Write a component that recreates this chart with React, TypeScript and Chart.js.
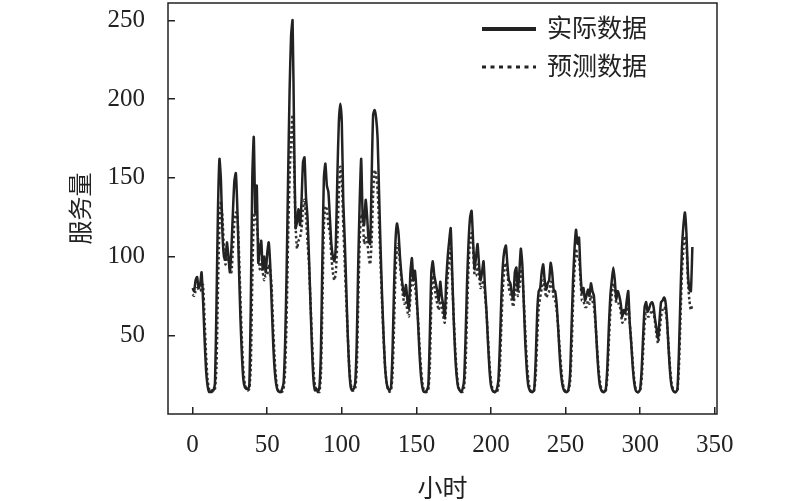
import { useEffect, useRef } from 'react';
import { Chart, registerables } from 'chart.js';

Chart.register(...registerables);

const seriesNames = ['实际数据', '预测数据'];
const xTitle = '小时';
const yTitle = '服务量';
const xTicks = [0, 50, 100, 150, 200, 250, 300, 350];
const yTicks = [50, 100, 150, 200, 250];

// hourly values
const actual = [
  80, 78, 85, 87, 80, 82, 90, 72, 48, 28, 18, 14,
  14, 15, 15, 20, 70, 130, 162, 148, 115, 100, 98, 109,
  100, 90, 105, 128, 148, 153, 130, 95, 62, 38, 22, 17,
  16, 16, 18, 70, 150, 176, 128, 145, 96, 104, 110, 92,
  100, 90, 102, 109, 95, 70, 45, 28, 19, 15, 14, 14,
  16, 20, 45, 90, 150, 205, 240, 250, 180, 118, 122, 130,
  120, 135, 160, 163, 138, 125, 100, 70, 42, 22, 15, 16,
  14, 17, 40, 100, 150, 159, 145, 141, 125, 108, 100, 97,
  108, 150, 185, 197, 185, 135, 110, 80, 50, 28, 17, 15,
  16, 20, 45, 95, 135, 162, 125, 120, 136, 125, 110, 108,
  150, 190, 193, 188, 175, 140, 105, 75, 50, 30, 20, 16,
  15, 17, 40, 80, 110, 121, 115, 100, 88, 80, 75, 82,
  72, 67, 90, 99, 85, 91, 79, 60, 40, 25, 17, 14,
  14, 15, 18, 50, 90, 97, 88, 83, 78, 72, 84, 75,
  69, 61, 85, 100, 110, 118, 90, 60, 38, 24, 17, 15,
  14, 16, 22, 50, 85, 110, 125, 129, 110, 92, 100, 108,
  95, 85, 90, 97, 80, 65, 45, 28, 18, 15, 14, 14,
  16, 22, 45, 75, 95, 104, 107, 95, 85, 83, 76, 73,
  90, 93, 79, 90, 105, 95, 70, 45, 28, 18, 15, 14,
  14, 16, 35, 65, 78, 80, 90, 95, 85, 79, 83, 85,
  96, 90, 79, 78, 70, 55, 38, 25, 18, 15, 14, 14,
  16, 25, 55, 85, 105, 117, 108, 112, 90, 77, 80, 72,
  75, 79, 75, 83, 78, 75, 60, 42, 27, 18, 15, 14,
  14, 16, 30, 55, 75, 85, 93, 85, 73, 78, 75, 70,
  62, 66, 64, 72, 78, 58, 45, 30, 20, 15, 14, 14,
  16, 28, 50, 68, 71, 65, 67, 70, 71, 68, 60, 54,
  48, 60, 71, 72, 74, 71, 60, 42, 27, 18, 15, 14,
  14, 16, 40, 75, 105, 120, 128, 115, 90, 79, 78, 106,
];

const predicted = [
  76, 75, 78, 80, 79, 78, 80, 82, 60, 38, 22, 16,
  14, 14, 15, 16, 30, 80, 120, 135, 125, 105, 95, 98,
  100, 92, 90, 105, 122, 128, 126, 105, 75, 48, 28, 19,
  16, 15, 16, 30, 85, 125, 128, 120, 110, 92, 95, 90,
  85, 88, 88, 95, 92, 80, 55, 35, 22, 16, 14, 14,
  14, 16, 28, 60, 110, 150, 175, 190, 160, 120, 105, 110,
  112, 118, 130, 136, 125, 110, 95, 72, 48, 28, 18, 15,
  14, 14, 25, 70, 120, 132, 130, 120, 115, 100, 90, 85,
  90, 110, 140, 157, 150, 120, 95, 72, 50, 30, 19, 15,
  15, 16, 28, 70, 110, 127, 125, 108, 112, 110, 100, 95,
  110, 140, 155, 152, 142, 120, 95, 70, 48, 30, 20, 16,
  14, 15, 25, 55, 90, 105, 108, 95, 85, 75, 70, 72,
  65, 62, 75, 88, 82, 82, 72, 62, 45, 30, 20, 15,
  14, 14, 15, 30, 70, 88, 82, 75, 70, 66, 72, 68,
  62, 58, 70, 88, 98, 105, 85, 62, 42, 27, 18, 15,
  14, 14, 17, 32, 65, 95, 110, 115, 105, 88, 88, 95,
  88, 80, 82, 85, 76, 64, 48, 32, 21, 16, 14, 14,
  14, 17, 30, 58, 80, 92, 96, 90, 80, 76, 72, 68,
  78, 85, 75, 80, 92, 88, 72, 52, 34, 22, 16, 14,
  14, 15, 25, 48, 68, 74, 80, 85, 80, 74, 76, 78,
  84, 82, 74, 72, 66, 56, 42, 30, 20, 16, 14, 14,
  15, 20, 40, 70, 92, 105, 100, 100, 85, 72, 72, 68,
  68, 72, 70, 75, 72, 68, 58, 44, 30, 21, 16, 14,
  14, 15, 24, 45, 65, 76, 83, 80, 70, 70, 70, 65,
  58, 60, 60, 64, 70, 58, 46, 33, 22, 16, 14, 14,
  15, 22, 40, 58, 64, 62, 62, 64, 66, 64, 58, 50,
  45, 52, 62, 66, 68, 66, 58, 44, 30, 20, 16, 14,
  14, 15, 30, 60, 90, 105, 113, 108, 85, 72, 66, 70,
];

const hours = actual.map((_, i) => i);

const ink = '#222222';
const serif = '"Liberation Serif", "Times New Roman", serif';
const cjk = '"Noto Sans CJK SC", sans-serif';

const frameAndLegend = {
  id: 'frameAndLegend',
  afterDraw(chart: Chart) {
    const { ctx, chartArea } = chart;
    ctx.save();
    ctx.strokeStyle = ink;
    ctx.lineWidth = 1.5;
    ctx.setLineDash([]);
    ctx.strokeRect(chartArea.left, chartArea.top, chartArea.right - chartArea.left, chartArea.bottom - chartArea.top);

    const x0 = chartArea.right - 235;
    const x1 = chartArea.right - 181;
    const textX = chartArea.right - 170;
    const rows = [chartArea.top + 24, chartArea.top + 62];
    ctx.font = `25px ${cjk}`;
    ctx.fillStyle = ink;
    ctx.textBaseline = 'middle';
    ctx.textAlign = 'left';
    rows.forEach((y, i) => {
      ctx.beginPath();
      if (i === 0) {
        ctx.lineWidth = 4;
        ctx.setLineDash([]);
      } else {
        ctx.lineWidth = 3;
        ctx.setLineDash([4, 4.5]);
      }
      ctx.moveTo(x0, y + 2);
      ctx.lineTo(x1, y + 2);
      ctx.stroke();
      ctx.fillText(seriesNames[i], textX, y);
    });
    ctx.restore();
  },
};

const App = () => {
  const chartRef = useRef<HTMLCanvasElement | null>(null);
  const chartInstance = useRef<Chart | null>(null);

  useEffect(() => {
    if (!chartRef.current) return;
    if (chartInstance.current) chartInstance.current.destroy();

    chartInstance.current = new Chart(chartRef.current, {
      type: 'line',
      data: {
        labels: hours,
        datasets: [
          {
            label: seriesNames[0],
            data: actual,
            borderColor: ink,
            borderWidth: 2.5,
            pointRadius: 0,
            tension: 0.2,
          },
          {
            label: seriesNames[1],
            data: predicted,
            borderColor: '#333333',
            borderWidth: 2.5,
            borderDash: [2.5, 2.5],
            pointRadius: 0,
            tension: 0.2,
          },
        ],
      },
      options: {
        animation: false,
        responsive: true,
        maintainAspectRatio: false,
        layout: { padding: { top: 3, right: 83, left: 0, bottom: 0 } },
        plugins: {
          legend: { display: false },
          tooltip: { enabled: false },
        },
        scales: {
          x: {
            type: 'linear',
            min: -16.5,
            max: 351.5,
            afterBuildTicks: (scale: any) => {
              scale.ticks = xTicks.map((v) => ({ value: v }));
            },
            afterFit: (scale: any) => {
              scale.height = 87;
              scale.paddingLeft = 0;
              scale.paddingRight = 0;
            },
            border: { display: false },
            grid: { drawOnChartArea: false, drawTicks: true, tickLength: -7, color: ink, lineWidth: 1.5 },
            ticks: { color: ink, padding: 23, font: { family: serif, size: 25 } },
            title: {
              display: true,
              text: xTitle,
              color: ink,
              font: { family: cjk, size: 25, lineHeight: 1.1 },
              padding: { top: 0, bottom: 0 },
            },
          },
          y: {
            min: 0,
            max: 261,
            afterBuildTicks: (scale: any) => {
              scale.ticks = yTicks.map((v) => ({ value: v }));
            },
            afterFit: (scale: any) => {
              scale.width = 168;
              scale.paddingTop = 0;
              scale.paddingBottom = 0;
            },
            border: { display: false },
            grid: { drawOnChartArea: false, drawTicks: true, tickLength: -7, color: ink, lineWidth: 1.5 },
            ticks: { color: ink, padding: 30, font: { family: serif, size: 25 } },
            title: {
              display: true,
              text: yTitle,
              color: ink,
              font: { family: cjk, size: 24 },
              padding: { top: 65, bottom: 0 },
            },
          },
        },
      },
      plugins: [frameAndLegend],
    });

    return () => {
      if (chartInstance.current) {
        chartInstance.current.destroy();
        chartInstance.current = null;
      }
    };
  }, []);

  return (
    <div style={{ position: 'fixed', left: 0, top: 0, width: 800, height: 501, background: '#fff' }}>
      <canvas ref={chartRef}></canvas>
    </div>
  );
};

export default App;
